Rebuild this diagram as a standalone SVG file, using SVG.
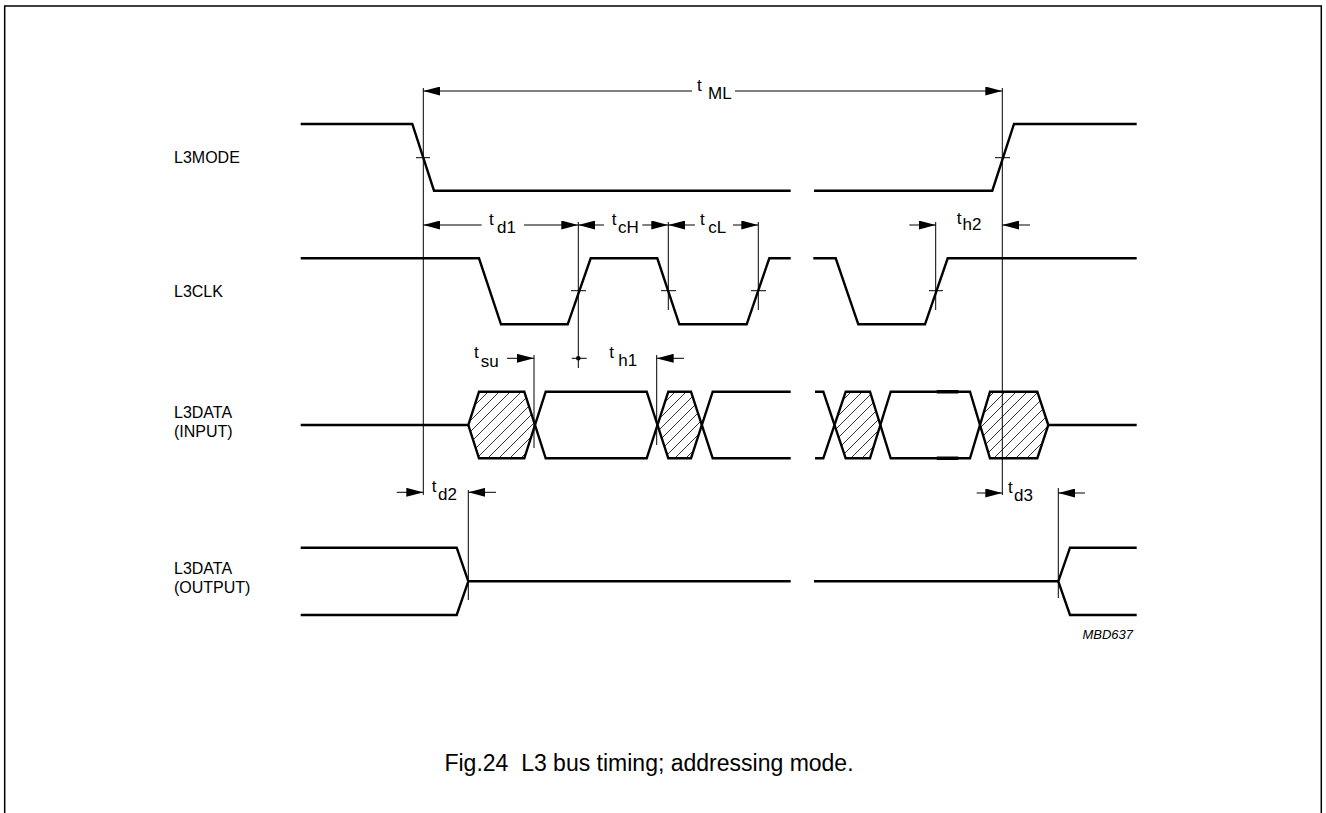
<svg xmlns="http://www.w3.org/2000/svg" width="1326" height="813" viewBox="0 0 1326 813">
<defs>
<style>
.sig{fill:none;stroke:#000;stroke-width:2.4;stroke-linejoin:miter}
.ref{fill:none;stroke:#000;stroke-width:1}
.dim{fill:none;stroke:#000;stroke-width:1;marker-end:url(#ah)}
.lbl{font-family:"Liberation Sans",Arial,sans-serif;font-size:16px;fill:#000}
.t{font-family:"Liberation Sans",Arial,sans-serif;font-size:17px;fill:#000}
.hatch{fill:url(#hatch);stroke:none}
</style>
<marker id="ah" markerUnits="userSpaceOnUse" markerWidth="17" markerHeight="9" refX="17" refY="4.5" orient="auto"><path d="M0,0 L17,4.5 L0,9 z" fill="#000"/></marker>
<pattern id="hatch" patternUnits="userSpaceOnUse" width="11" height="11"><path d="M-1,1 L1,-1 M0,11 L11,0 M10,12 L12,10" stroke="#000" stroke-width="0.8"/></pattern>
</defs>
<rect width="1326" height="813" fill="#fff"/>
<path d="M4.7,813 V6 H1321.3 V813" fill="none" stroke="#000" stroke-width="1.5"/>

<g id="L3MODE">
<text class="lbl" x="174" y="163">L3MODE</text>
<path class="sig" d="M300.7,124 H412.3 L434,190.7 H790.7 M814,190.7 H992.3 L1014,124 H1136.7"/>
</g>

<g id="L3CLK">
<text class="lbl" x="174" y="297">L3CLK</text>
<path class="sig" d="M300.7,258.3 H479 L501,324.3 H567.7 L590.7,258.3 H657.3 L679.3,324.3 H746.7 L769.3,258.3 H790.7 M813.3,258.3 H835.7 L858.3,324.3 H925 L947.7,258.3 H1136.7"/>
</g>

<g id="L3DATA-INPUT">
<text class="lbl"><tspan x="174" y="418">L3DATA</tspan><tspan x="174" y="437">(INPUT)</tspan></text>
<polygon class="hatch" points="468.3,425 479,391.7 524.3,391.7 535,425 524.3,458.3 479,458.3"/>
<polygon class="hatch" points="657.5,425 668.3,391.7 691,391.7 701.8,425 691,458.3 668.3,458.3"/>
<polygon class="hatch" points="834.5,425 845.7,391.7 870,391.7 880.3,425 870,458.3 845.7,458.3"/>
<polygon class="hatch" points="980,425 990,391.7 1037.3,391.7 1048.3,425 1037.3,458.3 990,458.3"/>
<path class="sig" d="M300.7,425 H468.3 L479,391.7 H524.3 L545.7,458.3 H646.7 L668.3,391.7 H691 L712.7,458.3 H790.7"/>
<path class="sig" d="M468.3,425 L479,458.3 H524.3 L545.7,391.7 H646.7 L668.3,458.3 H691 L712.7,391.7 H790.7"/>
<path class="sig" d="M815,391.7 H823.3 L845.7,458.3 H870 L890.7,391.7 H970 L990,458.3 H1037.3 L1048.3,425 H1136.7"/>
<path class="sig" d="M815,458.3 H823.3 L845.7,391.7 H870 L890.7,458.3 H970 L990,391.7 H1037.3 L1048.3,425"/>
<path fill="none" stroke="#000" stroke-width="3.6" d="M936.7,391.7 H958.3 M936.7,458.3 H958.3"/>
</g>

<g id="L3DATA-OUTPUT">
<text class="lbl"><tspan x="174" y="574">L3DATA</tspan><tspan x="174" y="593">(OUTPUT)</tspan></text>
<path class="sig" d="M300.7,547.7 H456.7 L468.3,581.3 L456.7,615 H300.7 M468.3,581.3 H790.7 M814,581.3 H1058.3 L1070,547.7 H1136.7 M1058.3,581.3 L1070,615 H1136.7"/>
</g>

<g id="connectors">
<path class="ref" d="M423.3,88 V495 M1002.3,88 V495 M578.3,222 V368 M668.3,222 V310 M758.3,222 V310 M935.7,222 V310 M534,355 V448 M656.7,355 V445 M468.3,490 V600 M1058.3,488 V598"/>
<path class="ref" d="M416,157.7 H430 M995,157.7 H1010 M571,290.7 H586 M661,290.7 H676 M751,290.7 H766 M929,290.7 H943 M571.7,358.3 H586.7"/>
<circle cx="578.3" cy="358.3" r="2.3" fill="#000"/>
<path class="dim" d="M692,91 H423.3"/>
<path class="dim" d="M735,91 H1002.3"/>
<path class="dim" d="M481.7,225 H423.3"/>
<path class="dim" d="M524,225 H578.3"/>
<path class="dim" d="M604,225 H578.3"/>
<path class="dim" d="M642.3,225 H668.3"/>
<path class="dim" d="M695,225 H668.3"/>
<path class="dim" d="M733,225 H758.3"/>
<path class="dim" d="M909.3,225 H935.7"/>
<path class="dim" d="M1030,225 H1002.3"/>
<path class="dim" d="M507,358.3 H534"/>
<path class="dim" d="M684,358.3 H656.7"/>
<path class="dim" d="M396.7,492.3 H423.3"/>
<path class="dim" d="M496,492.3 H468.3"/>
<path class="dim" d="M976.7,493 H1002.3"/>
<path class="dim" d="M1085,493 H1058.3"/>
</g>

<g id="timing-labels">
<text class="t"><tspan x="697" y="91">t</tspan><tspan x="708" y="99">ML</tspan></text>
<text class="t"><tspan x="489" y="225">t</tspan><tspan x="497" y="233">d1</tspan></text>
<text class="t"><tspan x="611.7" y="225">t</tspan><tspan x="618" y="233">cH</tspan></text>
<text class="t"><tspan x="700" y="225">t</tspan><tspan x="708.3" y="233">cL</tspan></text>
<text class="t"><tspan x="956.7" y="224">t</tspan><tspan x="962.5" y="230">h2</tspan></text>
<text class="t"><tspan x="474" y="358">t</tspan><tspan x="480.7" y="366.7">su</tspan></text>
<text class="t"><tspan x="609.3" y="358">t</tspan><tspan x="618.3" y="365.5">h1</tspan></text>
<text class="t"><tspan x="431.7" y="492">t</tspan><tspan x="438" y="500">d2</tspan></text>
<text class="t"><tspan x="1008" y="493">t</tspan><tspan x="1014" y="501">d3</tspan></text>
</g>

<text x="1133" y="639" text-anchor="end" font-family="'Liberation Sans',Arial,sans-serif" font-size="13" font-style="italic">MBD637</text>
<text x="649" y="771" text-anchor="middle" xml:space="preserve" font-family="'Liberation Sans',Arial,sans-serif" font-size="23">Fig.24  L3 bus timing; addressing mode.</text>
</svg>
